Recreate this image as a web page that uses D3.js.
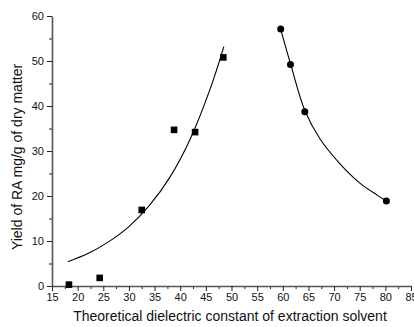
<!DOCTYPE html>
<html>
<head>
<meta charset="utf-8">
<script src="https://cdn.jsdelivr.net/npm/d3@7"></script>
<style>
    body { margin: 0; background: #fff; }
    svg { display: block; font-family: Arial, "Liberation Sans", sans-serif; }
</style>
</head>
<body>
<svg id="chart"></svg>
<script>
// Data
const squareX = [18.3, 24.3, 32.5, 38.8, 42.9, 48.4];
const squareY = [0.3, 1.8, 16.9, 34.7, 34.2, 50.8];
const circleX = [59.6, 61.5, 64.3, 80.2];
const circleY = [57.1, 49.2, 38.7, 18.9];

// Fitted curves, points
const fitLeftX = [18.1, 22, 26, 30, 34, 38, 42, 46, 48.5];
const fitLeftY = [5.4, 7.2, 9.8, 13.2, 17.9, 24.2, 32.8, 44.3, 53.2];
const fitRightX = [59.4, 61.5, 64.3, 67.3, 71.2, 75.1, 78.4, 80.2];
const fitRightY = [57.8, 49.4, 39.0, 32.6, 27.1, 22.8, 20.2, 18.9];

const xTicks = d3.range(15, 90, 5);
const yTicks = d3.range(0, 70, 10);

const width = 414, height = 327;
const margin = { top: 16, right: 3, bottom: 41, left: 52 };

const svg = d3.select("#chart")
    .attr("width", width)
    .attr("height", height);

const x = d3.scaleLinear().domain([15, 85]).range([margin.left, width - margin.right]);
const y = d3.scaleLinear().domain([0, 60]).range([height - margin.bottom, margin.top]);

// x axis
const xAxis = svg.append("g")
    .attr("transform", "translate(0," + y(0) + ")");
xAxis.append("g")
    .call(d3.axisBottom(x).tickValues(d3.range(17.5, 85, 5)).tickSize(3).tickFormat(""))
    .call(g => g.select(".domain").remove());
xAxis.append("g")
    .call(d3.axisBottom(x).tickValues(xTicks).tickSize(5).tickSizeOuter(0).tickPadding(2))
    .attr("font-size", 11)
    .attr("font-family", null);

// y axis
const yAxis = svg.append("g")
    .attr("transform", "translate(" + x(15) + ",0)");
yAxis.append("g")
    .call(d3.axisLeft(y).tickValues(d3.range(5, 60, 10)).tickSize(3).tickFormat(""))
    .call(g => g.select(".domain").remove());
yAxis.append("g")
    .call(d3.axisLeft(y).tickValues(yTicks).tickSize(5).tickSizeOuter(0).tickPadding(3))
    .attr("font-size", 11)
    .attr("font-family", null);

svg.selectAll(".domain").attr("stroke", "#555").attr("stroke-width", 1.6);
svg.selectAll(".tick line").attr("stroke", "#222");
svg.selectAll(".tick text").attr("fill", "#111");

// axis titles
svg.append("text")
    .attr("x", 230)
    .attr("y", 321)
    .attr("text-anchor", "middle")
    .attr("font-size", 14)
    .attr("fill", "#111")
    .text("Theoretical dielectric constant of extraction solvent");

svg.append("text")
    .attr("transform", "translate(22,157) rotate(-90)")
    .attr("text-anchor", "middle")
    .attr("font-size", 14)
    .attr("fill", "#111")
    .text("Yield of RA mg/g of dry matter");

// fit lines
const line = d3.line()
    .x(d => x(d[0]))
    .y(d => y(d[1]))
    .curve(d3.curveCatmullRom);

svg.append("path")
    .datum(d3.zip(fitLeftX, fitLeftY))
    .attr("d", line)
    .attr("fill", "none")
    .attr("stroke", "#000")
    .attr("stroke-width", 1.1);

svg.append("path")
    .datum(d3.zip(fitRightX, fitRightY))
    .attr("d", line)
    .attr("fill", "none")
    .attr("stroke", "#000")
    .attr("stroke-width", 1.1);

// markers
svg.selectAll("rect.pt")
    .data(d3.zip(squareX, squareY))
    .enter().append("rect")
    .attr("class", "pt")
    .attr("x", d => x(d[0]) - 3.3)
    .attr("y", d => y(d[1]) - 3.3)
    .attr("width", 6.6)
    .attr("height", 6.6)
    .attr("fill", "#000");

svg.selectAll("circle.pt")
    .data(d3.zip(circleX, circleY))
    .enter().append("circle")
    .attr("class", "pt")
    .attr("cx", d => x(d[0]))
    .attr("cy", d => y(d[1]))
    .attr("r", 3.5)
    .attr("fill", "#000");
</script>
</body>
</html>
